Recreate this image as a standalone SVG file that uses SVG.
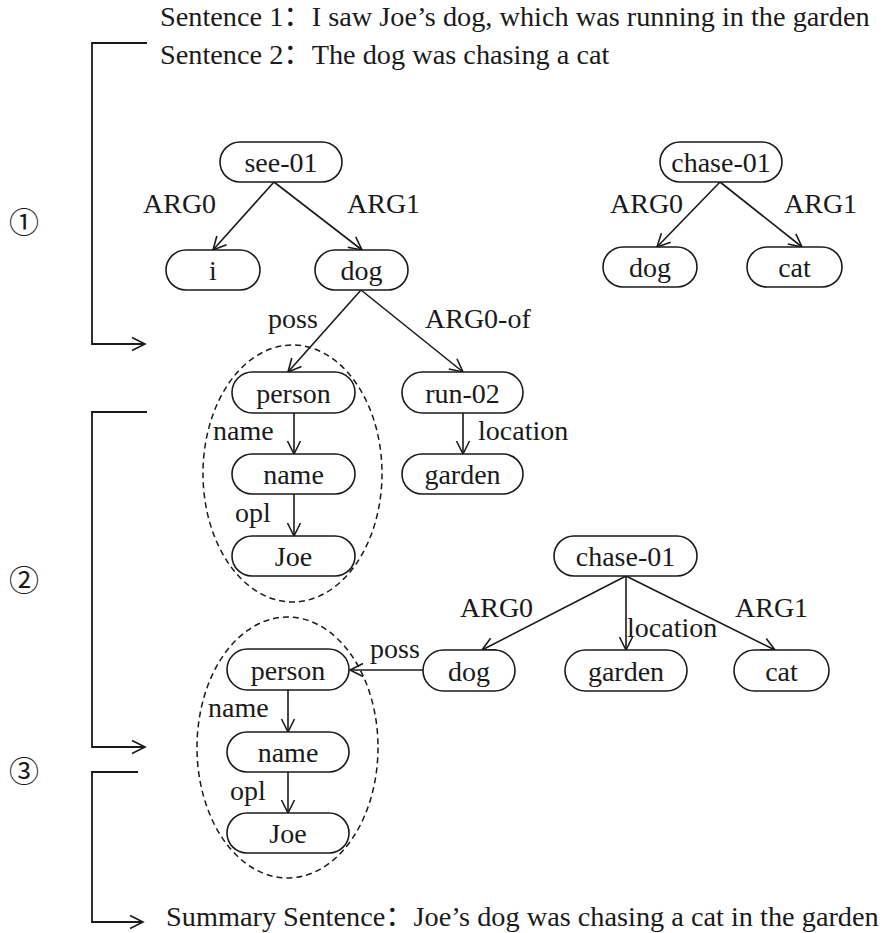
<svg xmlns="http://www.w3.org/2000/svg" width="891" height="933" viewBox="0 0 891 933">
  <style>
    .pill { fill: #fff; stroke: #1a1a1a; stroke-width: 1.6; }
    .lbl { font-family: "Liberation Serif", "Noto Sans CJK SC", serif; font-size: 28px; fill: #1a1a1a; }
    .sent { font-family: "Liberation Serif", "Noto Sans CJK SC", serif; font-size: 28.3px; fill: #1a1a1a; }
    .mid { text-anchor: middle; }
    .edge { fill: none; stroke: #1a1a1a; stroke-width: 1.6; marker-end: url(#vhead); }
    .frame { fill: none; stroke: #1a1a1a; stroke-width: 1.8; }
    .group { fill: none; stroke: #1a1a1a; stroke-width: 1.5; stroke-dasharray: 6 4; }
    .num { font-family: "Noto Sans CJK SC", "DejaVu Sans", sans-serif; font-size: 30px; fill: #1a1a1a; text-anchor: middle; }
  </style>
  <defs>
    <marker id="vhead" markerUnits="userSpaceOnUse" markerWidth="16" markerHeight="16" refX="14" refY="8" orient="auto">
      <path d="M1,1.5 L14,8 L1,14.5" fill="none" stroke="#1a1a1a" stroke-width="1.6"/>
    </marker>
  </defs>
  <rect width="891" height="933" fill="#fff"/>

  <!-- sentences -->
  <text class="sent" x="160" y="26">Sentence 1：I saw Joe’s dog, which was running in the garden</text>
  <text class="sent" x="160" y="64">Sentence 2：The dog was chasing a cat</text>
  <text class="sent" x="166" y="926">Summary Sentence：Joe’s dog was chasing a cat in the garden</text>

  <!-- step markers -->
  <text class="num" x="24" y="233">①</text>
  <text class="num" x="24" y="591">②</text>
  <text class="num" x="24" y="782">③</text>

  <!-- step brackets -->
  <g id="brackets">
    <path class="frame" d="M147,43 H92 V344 H145" marker-end="url(#vhead)"/>
    <path class="frame" d="M147,412 H92 V747 H145" marker-end="url(#vhead)"/>
    <path class="frame" d="M138,772 H92 V922 H143" marker-end="url(#vhead)"/>
  </g>

  <!-- grouping ellipses -->
  <ellipse class="group" cx="292.5" cy="473.5" rx="89.5" ry="128.5"/>
  <ellipse class="group" cx="287.5" cy="747.5" rx="90.5" ry="130.5"/>

  <g id="connectors">
    <!-- sentence 1 -->
    <line class="edge" x1="274" y1="182" x2="213" y2="250"/>
    <line class="edge" x1="274" y1="182" x2="362" y2="250"/>
    <line class="edge" x1="361" y1="290" x2="288" y2="372"/>
    <line class="edge" x1="361" y1="290" x2="463" y2="372"/>
    <line class="edge" x1="294" y1="413" x2="294" y2="454"/>
    <line class="edge" x1="294" y1="494" x2="294" y2="536"/>
    <line class="edge" x1="463" y1="413" x2="463" y2="454"/>
    <!-- sentence 2 -->
    <line class="edge" x1="720" y1="182" x2="657" y2="247"/>
    <line class="edge" x1="720" y1="182" x2="802" y2="247"/>
    <!-- merged graph -->
    <line class="edge" x1="626" y1="576" x2="482" y2="650"/>
    <line class="edge" x1="626" y1="576" x2="626" y2="650"/>
    <line class="edge" x1="626" y1="576" x2="775" y2="650"/>
    <line class="edge" x1="423" y1="670" x2="350" y2="670"/>
    <line class="edge" x1="288" y1="690" x2="288" y2="732"/>
    <line class="edge" x1="288" y1="772" x2="288" y2="813"/>
  </g>

  <!-- edge labels -->
  <g id="edge-labels" class="lbl">
    <text x="143" y="213">ARG0</text>
    <text x="347" y="213">ARG1</text>
    <text x="610" y="213">ARG0</text>
    <text x="784" y="213">ARG1</text>
    <text x="268" y="328">poss</text>
    <text x="425" y="328">ARG0-of</text>
    <text x="213" y="440">name</text>
    <text x="478" y="440">location</text>
    <text x="235" y="522">opl</text>
    <text x="460" y="617">ARG0</text>
    <text x="627" y="637">location</text>
    <text x="735" y="617">ARG1</text>
    <text x="370" y="658">poss</text>
    <text x="208" y="717">name</text>
    <text x="230" y="800">opl</text>
  </g>

  <!-- sentence 1 graph -->
  <g id="n-see01"><rect class="pill" x="220" y="142" width="122" height="40" rx="20"/><text class="lbl mid" x="281" y="172">see-01</text></g>
  <g id="n-i"><rect class="pill" x="166" y="250" width="94" height="40" rx="20"/><text class="lbl mid" x="213" y="280">i</text></g>
  <g id="n-dog1"><rect class="pill" x="315" y="250" width="93" height="40" rx="20"/><text class="lbl mid" x="361.5" y="280">dog</text></g>
  <g id="n-person1"><rect class="pill" x="232" y="372" width="123" height="41" rx="20.5"/><text class="lbl mid" x="293.5" y="402.5">person</text></g>
  <g id="n-run02"><rect class="pill" x="402" y="372" width="121" height="41" rx="20.5"/><text class="lbl mid" x="462.5" y="402.5">run-02</text></g>
  <g id="n-name1"><rect class="pill" x="232" y="454" width="123" height="40" rx="20"/><text class="lbl mid" x="293.5" y="484">name</text></g>
  <g id="n-garden1"><rect class="pill" x="402" y="454" width="121" height="40" rx="20"/><text class="lbl mid" x="462.5" y="484">garden</text></g>
  <g id="n-joe1"><rect class="pill" x="232" y="536" width="123" height="40" rx="20"/><text class="lbl mid" x="293.5" y="566">Joe</text></g>

  <!-- sentence 2 graph -->
  <g id="n-chase01a"><rect class="pill" x="660" y="142" width="122" height="40" rx="20"/><text class="lbl mid" x="721" y="172">chase-01</text></g>
  <g id="n-dog2"><rect class="pill" x="603" y="247" width="94" height="40" rx="20"/><text class="lbl mid" x="650" y="277">dog</text></g>
  <g id="n-cat1"><rect class="pill" x="747" y="247" width="95" height="40" rx="20"/><text class="lbl mid" x="794.5" y="277">cat</text></g>

  <!-- merged graph -->
  <g id="n-chase01b"><rect class="pill" x="554" y="536" width="143" height="40" rx="20"/><text class="lbl mid" x="625.5" y="566">chase-01</text></g>
  <g id="n-dog3"><rect class="pill" x="423" y="650" width="92" height="41" rx="20.5"/><text class="lbl mid" x="469" y="680.5">dog</text></g>
  <g id="n-garden2"><rect class="pill" x="565" y="650" width="122" height="41" rx="20.5"/><text class="lbl mid" x="626" y="680.5">garden</text></g>
  <g id="n-cat2"><rect class="pill" x="734" y="650" width="95" height="41" rx="20.5"/><text class="lbl mid" x="781.5" y="680.5">cat</text></g>
  <g id="n-person2"><rect class="pill" x="227" y="649" width="122" height="41" rx="20.5"/><text class="lbl mid" x="288" y="679.5">person</text></g>
  <g id="n-name2"><rect class="pill" x="227" y="732" width="122" height="40" rx="20"/><text class="lbl mid" x="288" y="762">name</text></g>
  <g id="n-joe2"><rect class="pill" x="227" y="813" width="122" height="40" rx="20"/><text class="lbl mid" x="288" y="843">Joe</text></g>
</svg>
